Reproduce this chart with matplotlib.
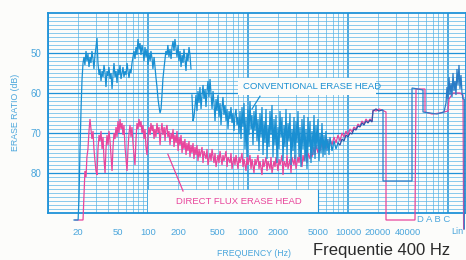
import matplotlib.pyplot as plt

plt.rcParams['font.family'] = ['Liberation Sans', 'DejaVu Sans']

# conventional erase head (blue), (Hz, dB)
blue_low = [(18.2, 91.75), (20.0, 91.75), (20.4, 86.5), (20.9, 74), (21.4, 64), (21.9, 56.5),
            (22.4, 52.5), (22.9, 51), (23.4, 53), (24.0, 49.5), (24.5, 52), (25.1, 50.25),
            (25.7, 53.5), (26.3, 51), (26.9, 52.5), (27.5, 49.5), (28.2, 51.5), (28.8, 54),
            (29.5, 50.5), (30.2, 48.5), (30.9, 46.25), (31.6, 52.5), (32.4, 55.5), (33.1, 54),
            (33.9, 57), (34.7, 54.5), (35.5, 56), (36.3, 53), (37.2, 55), (38.0, 58.5),
            (38.9, 54.5), (39.8, 55.75), (40.7, 53.5), (41.7, 56.5), (42.7, 55), (43.7, 59),
            (44.7, 55.5), (45.7, 52.5), (46.8, 56), (47.9, 54.5), (49.0, 57.5), (50.1, 54),
            (51.3, 55.5), (52.5, 53), (53.7, 56.5), (55.0, 55), (56.2, 53.5), (57.5, 56),
            (58.9, 54.5), (60.3, 55.5), (61.7, 52.5), (63.1, 54.5), (64.6, 56.25), (66.1, 54),
            (67.6, 55), (69.2, 52.5), (70.8, 51), (72.4, 49.5), (74.1, 51.5), (75.9, 48.5),
            (77.6, 50.5), (79.4, 46.5), (81.3, 49), (83.2, 47.5), (85.1, 50.5), (87.1, 48),
            (89.1, 49.5), (91.2, 52), (93.3, 48.5), (95.5, 51), (97.7, 49), (100, 53),
            (102, 50), (105, 52), (107, 49.5), (110, 51.5), (112, 54), (115, 51), (117, 53),
            (120, 56), (123, 58.5), (126, 61.5), (129, 63.5), (132, 65), (135, 64), (138, 60.5),
            (141, 56.5), (145, 53.5), (148, 51.5), (151, 49.5), (155, 50.5), (158, 48),
            (162, 51), (166, 49), (170, 51.5), (174, 48.5), (178, 47), (182, 49.5), (186, 46.5),
            (191, 49), (195, 51), (200, 48), (204, 52), (209, 49.5), (214, 53.5), (219, 50.5),
            (224, 52.5), (229, 49), (234, 51.5), (240, 54.5), (245, 50), (251, 52), (257, 48.5),
            (263, 50.5), (269, 54)]
blue_mid = [(275, 60.5), (282, 67), (288, 66), (295, 63.5), (302, 60.5), (309, 64.5), (316, 59.5),
            (324, 62.5), (331, 58.5), (339, 64), (347, 60.5), (355, 58), (363, 61.5), (372, 59),
            (380, 63.5), (389, 59.5), (398, 57), (407, 61), (417, 56.5), (427, 60.5), (437, 64),
            (447, 59.5), (457, 62.5), (468, 67), (479, 61.5), (490, 64.5), (501, 60.5), (513, 66),
            (525, 62.5), (537, 68), (550, 63.5), (562, 61), (575, 65.5), (589, 63), (603, 67),
            (617, 64), (631, 69), (646, 64.5), (661, 66.5), (676, 63.5), (692, 67.5), (708, 65),
            (724, 69.5), (741, 65.5), (759, 64), (776, 68), (794, 66), (813, 70), (832, 64.5),
            (851, 71.5), (871, 63.5), (891, 68.5), (912, 62.5), (933, 74), (955, 66), (977, 76),
            (1000, 64), (1023, 70.5), (1047, 62), (1072, 69), (1096, 65.5), (1122, 73),
            (1148, 64.5), (1175, 69.5), (1202, 63), (1230, 72), (1259, 66.5), (1288, 74.5),
            (1318, 65), (1349, 71), (1380, 63.5), (1413, 75.5), (1445, 67), (1479, 72.5),
            (1514, 64), (1549, 76.5), (1585, 68), (1622, 73.5), (1660, 64.5), (1698, 70.5),
            (1738, 63), (1778, 76), (1820, 66.5), (1862, 73), (1905, 65.5), (1950, 77.5),
            (1995, 68.5), (2042, 74), (2089, 64.5), (2138, 71), (2188, 66), (2239, 77),
            (2291, 68), (2344, 73.5), (2399, 64), (2455, 75.5), (2512, 67.5), (2570, 72),
            (2630, 65), (2692, 78), (2754, 69), (2818, 74.5), (2884, 66), (2951, 76.5),
            (3020, 67), (3090, 72.5), (3162, 64.5), (3236, 76), (3311, 68.5), (3388, 78.5),
            (3467, 66.5), (3548, 74), (3631, 65.5), (3715, 77), (3802, 69), (3890, 79),
            (3981, 66), (4074, 73.5), (4169, 67), (4266, 77.5), (4365, 69.5), (4467, 75.5),
            (4571, 65.5), (4677, 76.5), (4786, 68), (4898, 74), (5012, 66.5), (5129, 77),
            (5248, 70), (5370, 75), (5495, 67.5), (5623, 76), (5754, 70.5), (5888, 75.5),
            (6026, 69.5), (6166, 74.5), (6310, 71.5), (6457, 75.5), (6607, 71), (6918, 74.5),
            (7244, 72), (7586, 74), (7943, 72.5)]
blue_merged = [(7943, 72.5), (8318, 73), (8710, 71.5), (9120, 72), (9550, 70.5), (10000, 71),
               (10470, 70), (10960, 70.25), (11480, 69), (12020, 69.25), (12590, 68.25),
               (13180, 68.5), (13800, 67.5), (14450, 68), (15140, 67), (15850, 67.5),
               (16600, 66.75), (17380, 67.25), (17780, 64.5), (19050, 64), (20420, 64.5),
               (21880, 64.25)]
blue_weight = [(21880, 64.25), (22390, 64.25), (22390, 82), (43650, 82), (43650, 58.75),
               (50120, 59), (56230, 59.25), (56230, 64.75), (66070, 65), (77620, 65.25),
               (91200, 64.75), (95500, 62.5), (97720, 58.5), (100000, 61.5), (102300, 56),
               (104700, 60.5), (107200, 57.5), (109600, 61), (112200, 55), (114800, 59.5),
               (117500, 57), (120200, 60.5), (123000, 54), (125900, 58), (128800, 53),
               (131800, 59), (134900, 55.5), (138000, 60), (141300, 61.5), (145500, 61.5),
               (145500, 94)]

# direct flux erase head (pink)
pink_main = [(18.6, 91.75), (22.4, 91.75), (22.9, 85.25), (23.4, 79.5), (24.0, 81), (24.5, 76),
             (25.1, 74), (25.7, 69.5), (26.3, 66.5), (26.9, 69), (27.5, 71.5), (28.2, 69.5),
             (28.8, 74), (29.5, 77), (30.2, 79.5), (30.9, 80.5), (31.6, 74), (32.4, 70.5),
             (33.1, 72), (33.9, 69.5), (34.7, 74), (35.5, 71), (36.3, 76.5), (37.2, 80),
             (38.0, 74), (38.9, 70.5), (39.8, 73), (40.7, 69.5), (41.7, 72), (42.7, 76),
             (43.7, 79.5), (44.7, 73.5), (45.7, 70), (46.8, 71.5), (47.9, 68.5), (49.0, 71),
             (50.1, 67), (51.3, 70), (52.5, 66.5), (53.7, 69), (55.0, 67.5), (56.2, 70.5),
             (57.5, 68), (58.9, 73.5), (60.3, 76.5), (61.7, 79.5), (63.1, 74), (64.6, 70),
             (66.1, 68), (67.6, 71), (69.2, 68.5), (70.8, 72.5), (72.4, 75.5), (74.1, 78),
             (75.9, 71.5), (77.6, 67.5), (79.4, 69), (81.3, 66.5), (83.2, 68.5), (85.1, 67),
             (87.1, 70), (89.1, 68), (91.2, 71.5), (93.3, 69), (95.5, 73.5), (97.7, 75.5),
             (100, 71), (102, 68.5), (105, 70.5), (107, 67.5), (110, 69.5), (112, 68),
             (115, 71.5), (117, 69), (120, 71), (123, 67.5), (126, 70), (129, 68.5), (132, 73),
             (135, 69.5), (138, 67.5), (141, 70.5), (145, 68.5), (148, 72), (151, 69), (155, 68),
             (158, 71), (162, 69.5), (166, 73), (170, 70), (174, 71.5), (178, 69), (182, 73.5),
             (186, 70.5), (191, 72.5), (195, 69.5), (200, 74.5), (204, 71), (209, 73),
             (214, 70.5), (219, 75), (224, 72), (229, 74), (234, 71.5), (240, 75.5), (245, 72.5),
             (251, 74.5), (257, 72), (263, 76), (269, 73), (275, 75), (282, 72.5), (288, 76.5),
             (295, 73.5), (302, 75.5), (309, 73), (316, 77), (324, 74), (331, 76), (347, 73.5),
             (355, 77.5), (363, 74.5), (380, 76.5), (389, 74), (398, 78), (417, 75), (427, 77),
             (437, 74), (457, 77.5), (468, 75), (479, 78.5), (501, 75.5), (513, 77.5),
             (525, 74.5), (550, 78), (562, 75.5), (575, 77), (603, 74.5), (617, 78.5), (631, 76),
             (661, 77.5), (676, 75), (692, 79), (724, 76), (741, 78), (759, 75.5), (794, 79),
             (813, 76), (832, 77.5), (871, 75), (891, 78.5), (912, 76.5), (955, 79.5), (977, 76),
             (1000, 78), (1047, 75.5), (1072, 79), (1096, 76.5), (1148, 80), (1175, 76.5),
             (1202, 78), (1259, 75.5), (1288, 79), (1318, 77), (1380, 80.5), (1413, 76.5),
             (1445, 78.5), (1514, 76), (1549, 79.5), (1585, 77), (1660, 79), (1698, 76),
             (1738, 80), (1820, 77), (1862, 78.5), (1905, 76), (1995, 79.5), (2042, 76.5),
             (2089, 78), (2188, 75.5), (2239, 80.5), (2291, 77), (2399, 78.5), (2455, 75.5),
             (2512, 79), (2630, 76.5), (2692, 80), (2754, 76), (2884, 78), (2951, 75.5),
             (3020, 79), (3162, 76), (3236, 77.5), (3311, 75), (3467, 78.5), (3548, 75.5),
             (3631, 77), (3802, 74.5), (3890, 77.5), (3981, 75), (4169, 76.5), (4266, 74),
             (4365, 76), (4571, 73.5), (4677, 75.5), (4786, 73), (5012, 75), (5129, 73),
             (5248, 74.5), (5495, 72.5), (5623, 74), (5754, 72), (6026, 74), (6166, 71.5),
             (6310, 73.5), (6607, 71.5), (6918, 73), (7244, 71), (7586, 72.5), (7943, 70.5),
             (8318, 72), (8710, 70), (9120, 71), (9550, 69.5), (10000, 70.5), (10470, 69),
             (10960, 69.75), (11480, 68.5), (12020, 69), (12590, 67.75), (13180, 68.25),
             (13800, 67), (14450, 67.75), (15140, 66.5), (15850, 67.25), (16600, 66.5),
             (17380, 67)]
pink_weight = [(17380, 67), (17780, 64.25), (19050, 64.5), (20420, 64), (22910, 64.5),
               (23990, 64.75), (23990, 91.75), (46770, 91.75), (47860, 59), (52480, 59),
               (58880, 59), (58880, 64.75), (69180, 65.25), (83180, 65), (100000, 64.5),
               (102300, 61.5), (112200, 60), (120200, 60), (131800, 60), (141300, 60.5),
               (143300, 94)]

xtick_vals = [20, 50, 100, 200, 500, 1000, 2000, 5000, 10000, 20000, 40000]
xtick_labels = ['20', '50', '100', '200', '500', '1000', '2000', '5000', '10000', '20000', '40000']
ytick_vals = [50, 60, 70, 80]

bg = '#fcfcfa'
grid_c = '#5ab5e6'
axis_c = '#1f92d8'
text_c = '#4aa6dc'
blue_c = '#1a8fd2'
navy_c = '#2f55a8'
pink_c = '#e8469c'

W, H = 466, 260
fig = plt.figure(figsize=(W / 100, H / 100), dpi=100, facecolor=bg)
ax = fig.add_axes([48 / W, 1 - 213 / H, 418 / W, 200 / H])
ax.set_facecolor(bg)
ax.set_xscale('log')
ax.set_xlim(10, 10 ** 5.18)
ax.set_ylim(90, 40)

# chart paper grid
for k in range(1, 6):
    for m in range(1, 10):
        ax.axvline(m * 10 ** k, color=grid_c if m > 1 else axis_c,
                   lw=1.1 if m == 1 else 0.5, zorder=1)
for db in range(41, 90):
    ax.axhline(db, color=grid_c if db % 10 else axis_c,
               lw=0.9 if db % 10 == 0 else 0.5, zorder=1)

# white label panels cut into the grid
ax.fill([794, 19050, 19050, 794], [56.25, 56.25, 60.5, 60.5], color=bg, lw=0, zorder=2)
ax.fill([100, 5012, 5012, 100], [84.2, 84.2, 90, 90], color=bg, lw=0, zorder=2)
ax.plot([5012, 5012], [84.2, 90], color=axis_c, lw=0.8, zorder=2)

def draw(seg, color, z):
    f, v = zip(*seg)
    ax.plot(f, v, color=color, lw=0.9, zorder=z, clip_on=False, solid_joinstyle='miter')

draw(pink_main, pink_c, 3)
draw(pink_weight, pink_c, 3)
draw(blue_low, blue_c, 4)
draw(blue_mid, blue_c, 4)
draw(blue_merged, navy_c, 4)
draw(blue_weight, '#2a7cc6', 4)

ax.text(891, 58.4, 'CONVENTIONAL ERASE HEAD', color=blue_c, fontsize=6.8, va='center', zorder=5)
ax.plot([1318, 1096], [60.8, 64], color=blue_c, lw=0.9, zorder=5)
ax.text(191, 87.0, 'DIRECT FLUX ERASE HEAD', color=pink_c, fontsize=6.8, va='center', zorder=5)
ax.plot([158, 224], [75.3, 84.5], color=pink_c, lw=0.9, zorder=5)

ax.set_xticks(xtick_vals)
ax.set_xticklabels(xtick_labels)
ax.set_yticks(ytick_vals)
ax.minorticks_off()
ax.tick_params(axis='x', length=0, labelsize=6.8, labelcolor=text_c, pad=11)
ax.tick_params(axis='y', length=0, labelsize=7, labelcolor=text_c, pad=5)
for s in ax.spines.values():
    s.set_color(axis_c)
    s.set_linewidth(1.3)

fig.text(417 / W, 1 - 219 / H, 'D A B C', color=text_c, fontsize=6.8, va='center')
fig.text(451 / W, 1 - 232 / H, 'Lin', color=text_c, fontsize=6.5, va='center')
fig.text(16 / W, 1 - 112 / H, 'ERASE RATIO (dB)', color=text_c, fontsize=6.3,
         rotation=90, ha='center', va='center')
fig.text(254 / W, 1 - 253 / H, 'FREQUENCY (Hz)', color=text_c, fontsize=6.3, ha='center', va='center')
fig.text(313 / W, 1 - 255.5 / H, 'Frequentie 400 Hz', color='#2b2b2b', fontsize=12, va='baseline')

fig.savefig('out.png', dpi=100, facecolor=bg)
